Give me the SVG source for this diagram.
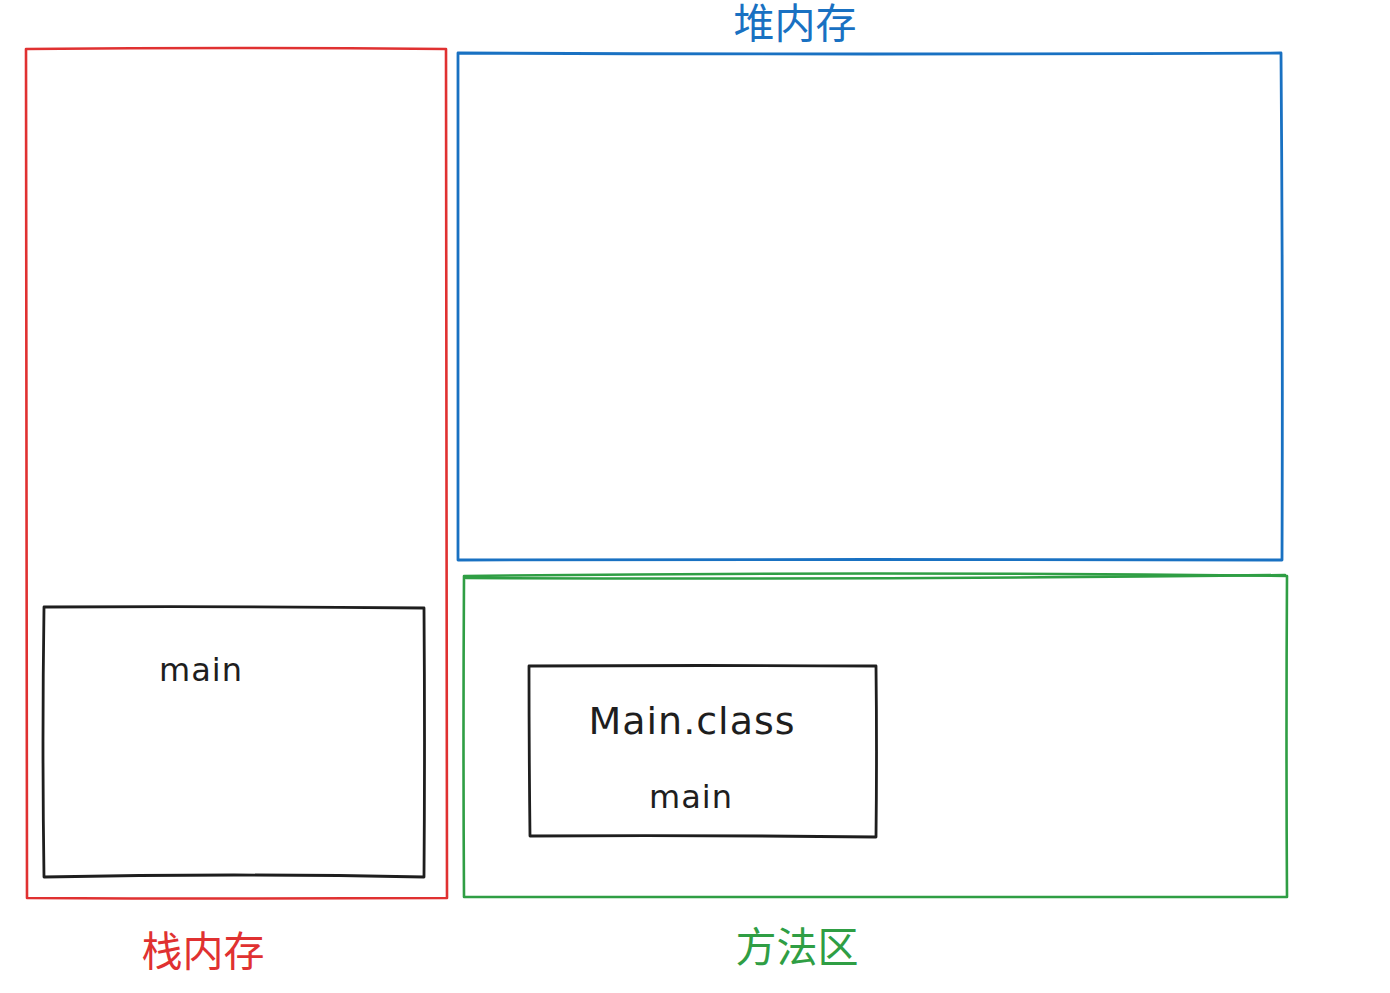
<svg xmlns="http://www.w3.org/2000/svg" width="1390" height="993" viewBox="0 0 1390 993">
<style>
.box{fill:none;stroke-linecap:round;stroke-linejoin:round}
.red{stroke:#e03131;stroke-width:2.6}
.blue{stroke:#1971c2;stroke-width:2.8}
.green{stroke:#2f9e44;stroke-width:2.6}
.black{stroke:#1e1e1e;stroke-width:2.8}
.cjk{font-family:"Noto Sans CJK SC","Noto Sans",sans-serif;text-anchor:middle}
.hand{font-family:"DejaVu Sans","Liberation Sans",sans-serif;fill:#1e1e1e;text-anchor:middle}
</style>
<rect width="1390" height="993" fill="#ffffff"/>
<g id="stack">
<path class="box red" d="M26 49 Q236 47 446 49 Q447 470 447 898 Q236 899 27 898 Q26 470 26 49 Z"/>
<text class="cjk" x="203" y="966" font-size="41" fill="#e03131">栈内存</text>
</g>
<g id="heap">
<path class="box blue" d="M458 53 Q870 55 1281 53 Q1283 305 1282 560 Q870 559 458 560 Q457 305 458 53 Z"/>
<text class="cjk" x="795" y="38" font-size="41" fill="#1971c2">堆内存</text>
</g>
<g id="method-area">
<path class="box green" d="M464 576 Q875 571 1287 576 Q1286 737 1287 897 Q875 898 464 897 Q463 737 464 576 Z"/>
<path class="box green" d="M466 578 Q875 580 1285 575" stroke-width="1.4"/>
<text class="cjk" x="797" y="962" font-size="41" fill="#2f9e44">方法区</text>
</g>
<g id="main-frame">
<path class="box black" d="M44 607 Q234 606 424 608 Q425 742 424 877 Q234 873 44 877 Q42 742 44 607 Z"/>
<text class="hand" x="201" y="681" font-size="32" letter-spacing="1">main</text>
</g>
<g id="main-class">
<path class="box black" d="M529 666 Q703 665 876 666 Q877 751 876 837 Q703 835 530 836 Q529 751 529 666 Z"/>
<text class="hand" x="692" y="734" font-size="38" letter-spacing="1">Main.class</text>
<text class="hand" x="691" y="808" font-size="32" letter-spacing="1">main</text>
</g>
<g id="connectors"></g>
</svg>
